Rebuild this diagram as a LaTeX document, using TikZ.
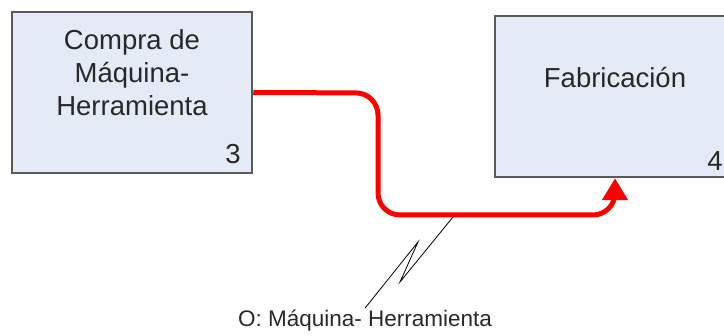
\documentclass[tikz,border=0pt]{standalone}
\usepackage{fontspec}
\setmainfont{Liberation Sans}
\usetikzlibrary{arrows.meta}
\definecolor{boxfill}{RGB}{229,235,246}
\definecolor{boxline}{RGB}{90,90,90}
\definecolor{txt}{RGB}{40,40,40}
\tikzset{
  proc/.style={draw=boxline, line width=2.5pt, fill=boxfill, minimum width=240pt, minimum height=161pt, inner sep=0pt},
  boxtext/.style={font=\fontsize{27.5pt}{33pt}\selectfont, text=txt, align=center},
  flow/.style={draw=red, line width=5pt, rounded corners=22pt, -{Triangle[length=22pt,width=25pt]}},
  callout/.style={draw=black, line width=0.8pt},
}
\begin{document}
\begin{tikzpicture}[x=1pt,y=-1pt]
\useasboundingbox (0,0) rectangle (724,336);
\begin{scope}
\clip (0,0) rectangle (724,336);
\node[proc] (b1) at (132,92.5) {};
\node[proc] (b2) at (615,96.5) {};
\node[boxtext] (t1) at (132,73) {Compra de\\Máquina-\\Herramienta};
\node[boxtext] (n1) at (233,154) {3};
\node[boxtext] (t2) at (615,78) {Fabricación};
\node[boxtext] (n2) at (715,161) {4};
\end{scope}
\draw[flow] (b1.east) -- (378,93) -- (378,215) -- (615,215) -- (b2.south);
\coordinate (c1) at (453,217);
\node[font=\fontsize{22.5pt}{26pt}\selectfont, text=txt, inner sep=2pt] (lab) at (365,321) {O: Máquina- Herramienta};
\draw[callout] (c1) -- (400,282) -- (418,242) -- (lab.north);
\end{tikzpicture}
\end{document}
